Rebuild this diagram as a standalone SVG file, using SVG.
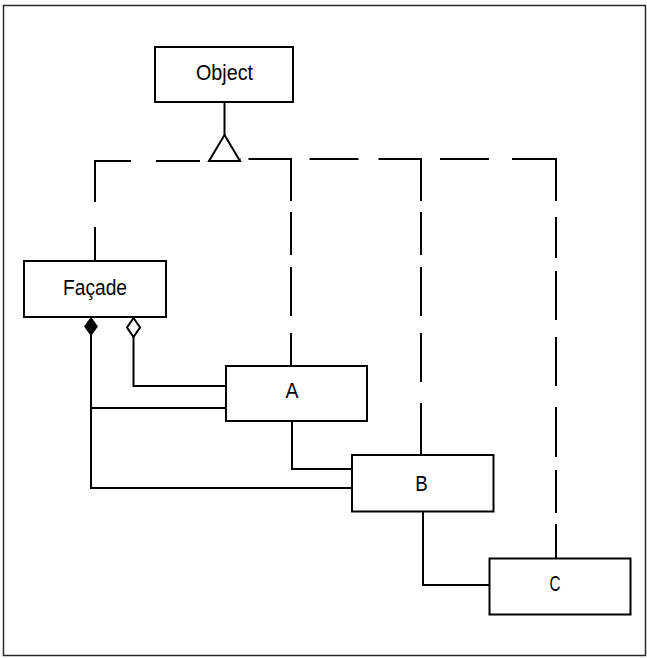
<svg xmlns="http://www.w3.org/2000/svg" width="647" height="658" viewBox="0 0 647 658">
  <style>
    .frame { fill: none; stroke: #2a2a2a; stroke-width: 1.5; }
    .box { fill: #ffffff; stroke: #000000; stroke-width: 2; }
    .label { font-family: "Liberation Sans Narrow", "Liberation Sans", Arial, sans-serif; font-size: 22px; fill: #000000; text-anchor: middle; }
    .link { fill: none; stroke: #000000; stroke-width: 2; }
    .dep { fill: none; stroke: #000000; stroke-width: 2; }
    .head-open { fill: #ffffff; stroke: #000000; stroke-width: 2; stroke-linejoin: miter; }
    .head-solid { fill: #000000; stroke: #000000; stroke-width: 1.5; }
  </style>

  <!-- outer frame -->
  <rect class="frame" x="3.5" y="5.5" width="642" height="650"/>

  <!-- connectors -->
  <g id="connectors">
    <!-- inheritance: everything derives from Object -->
    <line class="link" x1="224.5" y1="102" x2="224.5" y2="135"/>
    <polygon class="head-open" points="224.5,135 209,161 240,161"/>
    <path class="dep" d="M95,261 V161 H209" stroke-dasharray="34 25 77 25 44 9"/>
    <path class="dep" d="M291,366 V159 H240" stroke-dasharray="33 17 49 12 43 11 84.5 8"/>
    <path class="dep" d="M421,455 V159 H291" stroke-dasharray="52 21 49 17 49 12 43 11 84.5 20 49 18"/>
    <path class="dep" d="M556,558 V159 H421" stroke-dasharray="34 11 43 13 50 21 49 17 49 13 41 16 86 23 49 19"/>

    <!-- composition from Façade -->
    <polygon class="head-solid" points="91,318 97,326.5 91,335 85,326.5"/>
    <path class="link" d="M91,335 V488 H352"/>
    <line class="link" x1="91" y1="408" x2="226" y2="408"/>

    <!-- aggregation from Façade -->
    <polygon class="head-open" points="133.5,318 140,327.5 133.5,337 127,327.5"/>
    <path class="link" d="M133.5,337 V386 H226"/>

    <!-- A to B, B to C -->
    <path class="link" d="M292,421 V469 H352"/>
    <path class="link" d="M423,512 V585 H490"/>
  </g>

  <!-- nodes -->
  <g id="object">
    <rect class="box" x="155" y="47" width="138" height="55"/>
    <text class="label" x="224.5" y="80" textLength="57" lengthAdjust="spacingAndGlyphs">Object</text>
  </g>
  <g id="facade">
    <rect class="box" x="24" y="261" width="142" height="56"/>
    <text class="label" x="95" y="295" textLength="64" lengthAdjust="spacingAndGlyphs">Façade</text>
  </g>
  <g id="a">
    <rect class="box" x="226" y="366" width="141" height="55"/>
    <text class="label" x="292" y="398" textLength="13" lengthAdjust="spacingAndGlyphs">A</text>
  </g>
  <g id="b">
    <rect class="box" x="352" y="455" width="141.5" height="56.5"/>
    <text class="label" x="421.5" y="491" textLength="12.5" lengthAdjust="spacingAndGlyphs">B</text>
  </g>
  <g id="c">
    <rect class="box" x="489.5" y="558.5" width="141" height="56"/>
    <text class="label" x="555" y="591" textLength="11" lengthAdjust="spacingAndGlyphs">C</text>
  </g>
</svg>
